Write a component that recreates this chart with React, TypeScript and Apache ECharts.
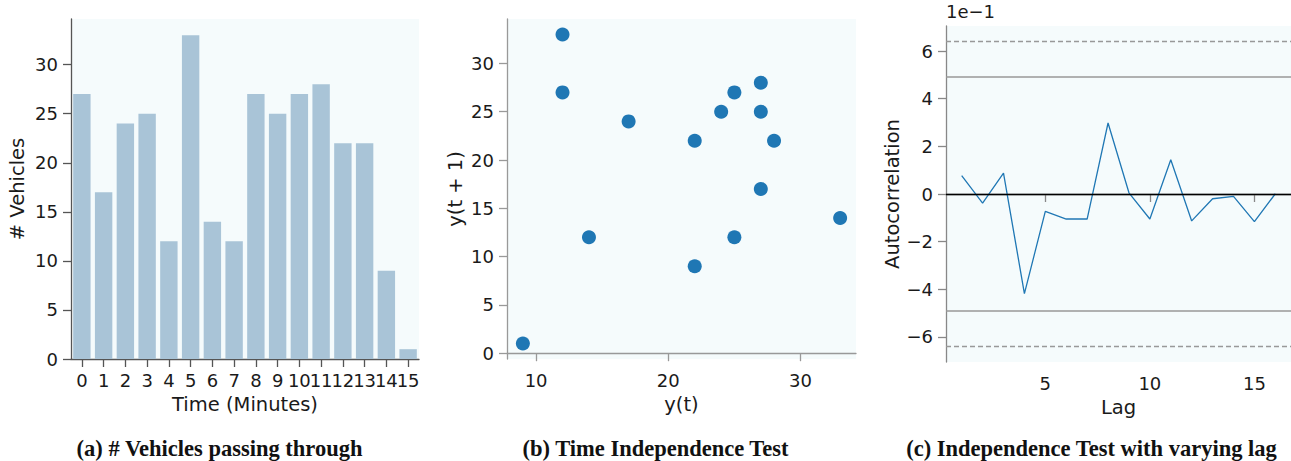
import React, { useEffect, useRef } from "react";
import * as echarts from "echarts";

const minutes = ["0","1","2","3","4","5","6","7","8","9","10","11","12","13","14","15"];
const vehicles = [27, 17, 24, 25, 12, 33, 14, 12, 27, 25, 27, 28, 22, 22, 9, 1];
const vehicleTicks = [0, 5, 10, 15, 20, 25, 30];

const yT = [27, 17, 24, 25, 12, 33, 14, 12, 27, 25, 27, 28, 22, 22, 9];
const yT1 = [17, 24, 25, 12, 33, 14, 12, 27, 25, 27, 28, 22, 22, 9, 1];
const scatterXTicks = [10, 20, 30];
const scatterYTicks = [0, 5, 10, 15, 20, 25, 30];

const lags = [1, 2, 3, 4, 5, 6, 7, 8, 9, 10, 11, 12, 13, 14, 15, 16];
const autocorr = [0.077, -0.038, 0.088, -0.418, -0.073, -0.105, -0.105, 0.298, 0.005, -0.105, 0.144, -0.113, -0.020, -0.010, -0.116, 0.001];
const conf95 = 0.49;
const conf99 = 0.644;
const lagTicks = [5, 10, 15];
const acTicks = [-0.6, -0.4, -0.2, 0, 0.2, 0.4, 0.6];

const captions = [
  "(a) # Vehicles passing through",
  "(b) Time Independence Test",
  "(c) Independence Test with varying lag",
];

const FONT = "DejaVu Sans";
const BG = "#f5fbfc";
const TXT = "#1a1a1a";

function axisCommon(color: string) {
  return {
    axisLine: { show: true, lineStyle: { color, width: 1.3 } },
    axisTick: { show: true, length: 8, lineStyle: { color, width: 1.3 } },
    splitLine: { show: false },
    axisLabel: { color: TXT, fontFamily: FONT, fontSize: 18 },
    nameTextStyle: { color: TXT, fontFamily: FONT, fontSize: 19.5 },
  };
}

export default function App() {
  const ref = useRef<HTMLDivElement>(null);
  useEffect(() => {
    if (!ref.current) return;
    const chart = echarts.init(ref.current, null, { renderer: "svg" });
    const ca = axisCommon("#555");
    const cb = axisCommon("#999");
    const cc = axisCommon("#888");
    const option: any = {
      animation: false,
      textStyle: { fontFamily: FONT },
      grid: [
        { left: 71, top: 19, width: 348, height: 340, show: true, backgroundColor: BG, borderWidth: 0, containLabel: false },
        { left: 507, top: 19, width: 349, height: 340, show: true, backgroundColor: BG, borderWidth: 0, containLabel: false },
        { left: 946, top: 26, width: 346, height: 336, show: true, backgroundColor: BG, borderWidth: 0, containLabel: false },
      ],
      xAxis: [
        {
          gridIndex: 0, type: "category", data: minutes, boundaryGap: true,
          ...ca,
          axisTick: { ...ca.axisTick, alignWithLabel: true, interval: 0 },
          axisLabel: { ...ca.axisLabel, interval: 0, margin: 12 },
          name: "Time (Minutes)", nameLocation: "middle", nameGap: 35,
        },
        {
          gridIndex: 1, type: "value", min: 7.8, max: 34.2,
          ...cb,
          axisTick: { ...cb.axisTick, customValues: scatterXTicks },
          axisLabel: { ...cb.axisLabel, customValues: scatterXTicks, margin: 12 },
          name: "y(t)", nameLocation: "middle", nameGap: 35,
        },
        {
          gridIndex: 2, type: "value", min: 0.25, max: 16.75,
          ...cc,
          axisTick: { ...cc.axisTick, customValues: lagTicks },
          axisLabel: { ...cc.axisLabel, customValues: lagTicks, margin: 12 },
          name: "Lag", nameLocation: "middle", nameGap: 35,
        },
      ],
      yAxis: [
        {
          gridIndex: 0, type: "value", min: 0, max: 34.65,
          ...ca,
          axisTick: { ...ca.axisTick, customValues: vehicleTicks },
          axisLabel: { ...ca.axisLabel, customValues: vehicleTicks, margin: 13 },
          name: "# Vehicles", nameLocation: "middle", nameGap: 44,
        },
        {
          gridIndex: 1, type: "value", min: -0.6, max: 34.6,
          ...cb,
          axisTick: { ...cb.axisTick, customValues: scatterYTicks },
          axisLabel: { ...cb.axisLabel, customValues: scatterYTicks, margin: 13 },
          name: "y(t + 1)", nameLocation: "middle", nameGap: 42,
        },
        {
          gridIndex: 2, type: "value", min: -0.705, max: 0.705,
          ...cc,
          axisTick: { ...cc.axisTick, customValues: acTicks },
          axisLabel: {
            ...cc.axisLabel, customValues: acTicks, margin: 13,
            formatter: (v: number) => {
              const n = Math.round(v * 10);
              return n < 0 ? "\u2212" + Math.abs(n) : String(n);
            },
          },
          name: "Autocorrelation", nameLocation: "middle", nameGap: 44,
        },
      ],
      series: [
        {
          type: "bar", xAxisIndex: 0, yAxisIndex: 0, data: vehicles,
          barWidth: "80%", itemStyle: { color: "#a9c4d7" },
        },
        {
          type: "scatter", xAxisIndex: 1, yAxisIndex: 1,
          data: yT.map((x, i) => [x, yT1[i]]),
          symbolSize: 14, itemStyle: { color: "#1f77b4", opacity: 1 },
        },
        {
          type: "line", xAxisIndex: 2, yAxisIndex: 2,
          data: lags.map((l, i) => [l, autocorr[i]]),
          showSymbol: false, symbol: "none",
          lineStyle: { color: "#1f77b4", width: 1.3 },
          markLine: {
            silent: true, symbol: "none", label: { show: false },
            data: [
              { yAxis: conf99, lineStyle: { color: "#999", type: [5, 3], width: 1.3 } },
              { yAxis: conf95, lineStyle: { color: "#999", type: "solid", width: 1.6 } },
              { yAxis: 0, lineStyle: { color: "#000", type: "solid", width: 1.3 } },
              { yAxis: -conf95, lineStyle: { color: "#999", type: "solid", width: 1.6 } },
              { yAxis: -conf99, lineStyle: { color: "#999", type: [5, 3], width: 1.3 } },
            ],
          },
        },
      ],
      graphic: [
        { type: "text", left: 946, top: 2, style: { text: "1e\u22121", fontFamily: FONT, fontSize: 18, fill: TXT } },
        ...captions.map((t, i) => ({
          type: "text",
          x: [219.5, 655.5, 1091.5][i],
          y: 448,
          style: {
            text: t, fontFamily: "Liberation Serif", fontWeight: "bold", fontSize: 22.5,
            fill: "#111", align: "center", verticalAlign: "middle",
          },
        })),
      ],
    };
    chart.setOption(option);
    return () => chart.dispose();
  }, []);
  return (
    <div
      ref={ref}
      style={{ position: "fixed", left: 0, top: 0, width: 1291, height: 461, background: "#fff" }}
    />
  );
}
